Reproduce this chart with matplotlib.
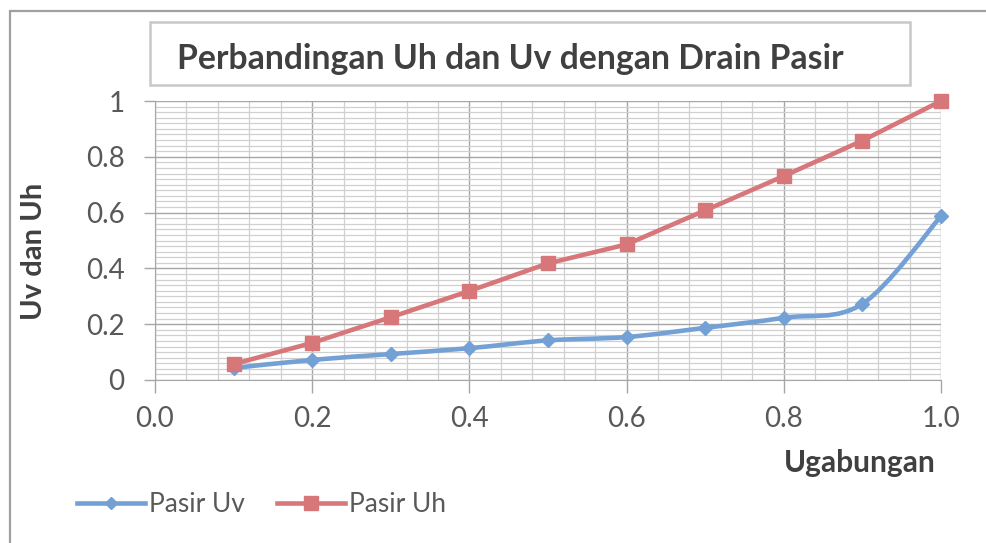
import numpy as np
import matplotlib.pyplot as plt
from matplotlib.path import Path
from matplotlib.patches import PathPatch, Rectangle
from matplotlib.lines import Line2D
from matplotlib.ticker import MultipleLocator

# -----------------------------
# Data
# -----------------------------
ugabungan = [0.1, 0.2, 0.3, 0.4, 0.5, 0.6, 0.7, 0.8, 0.9, 1.0]
pasir_uv = [0.043, 0.072, 0.093, 0.114, 0.142, 0.154, 0.187, 0.223, 0.273, 0.587]
pasir_uh = [0.057, 0.133, 0.225, 0.319, 0.418, 0.486, 0.608, 0.731, 0.858, 1.0]

x_ticks = [0.0, 0.2, 0.4, 0.6, 0.8, 1.0]
x_tick_labels = ["0.0", "0.2", "0.4", "0.6", "0.8", "1.0"]
y_ticks = [0, 0.2, 0.4, 0.6, 0.8, 1.0]
y_tick_labels = ["0", "0.2", "0.4", "0.6", "0.8", "1"]

BLUE = "#73a0d5"
RED = "#d8777a"
GREY_TXT = "#595959"

plt.rcParams["font.family"] = ["Lato", "DejaVu Sans"]


def smooth_path(xs, ys):
    # bezier segments through the points (like excel "smoothed line")
    pts = np.column_stack([xs, ys])
    n = len(pts)
    verts = [pts[0]]
    codes = [Path.MOVETO]
    for i in range(n - 1):
        p0 = pts[i - 1] if i > 0 else pts[i]
        p1 = pts[i]
        p2 = pts[i + 1]
        p3 = pts[i + 2] if i + 2 < n else pts[i + 1]
        c1 = p1 + (p2 - p0) / 6.0
        c2 = p2 - (p3 - p1) / 6.0
        verts += [c1, c2, p2]
        codes += [Path.CURVE4] * 3
    return Path(verts, codes)


# -----------------------------
# Figure
# -----------------------------
fig = plt.figure(figsize=(9.87, 5.43), dpi=100)
W, H = 987.0, 543.0

# outer chart frame
fig.patches.append(Rectangle((10 / W, -0.1), 1.2, 1 - 11 / H + 0.1,
                             transform=fig.transFigure, fill=False,
                             edgecolor="#a0a0a0", linewidth=1.6))
# title box
fig.patches.append(Rectangle((150 / W, 1 - 85 / H), 760 / W, 63 / H,
                             transform=fig.transFigure, facecolor="white",
                             edgecolor="#c8c8c8", linewidth=1.8))
fig.text(510 / W, 1 - 59 / H, "Perbandingan Uh dan Uv dengan Drain Pasir",
         ha="center", va="center", fontsize=24.3, fontweight="bold",
         color="#404040")

ax = fig.add_axes([155 / W, 1 - 380 / H, 786 / W, 279 / H])
ax.set_xlim(0, 1.0)
ax.set_ylim(0, 1.0)
ax.set_facecolor("none")

ax.xaxis.set_minor_locator(MultipleLocator(0.04))
ax.yaxis.set_minor_locator(MultipleLocator(0.02))
ax.set_xticks(x_ticks)
ax.set_xticklabels(x_tick_labels)
ax.set_yticks(y_ticks)
ax.set_yticklabels(y_tick_labels)
ax.grid(which="major", color="#a6a6a6", linewidth=1.0)
ax.grid(which="minor", color="#d0d0d0", linewidth=0.9)
ax.set_axisbelow(True)

for side in ["top", "right"]:
    ax.spines[side].set_visible(False)
ax.spines["left"].set_color("#a6a6a6")
ax.spines["bottom"].set_color("#a6a6a6")

ax.tick_params(axis="x", which="major", length=9, width=1, color="#a6a6a6",
               pad=10, labelsize=20, labelcolor=GREY_TXT)
ax.tick_params(axis="y", which="major", length=8, width=1, color="#a6a6a6",
               pad=14, labelsize=20, labelcolor=GREY_TXT)
ax.tick_params(which="minor", length=0)

# Uv: smoothed line with diamond markers
ax.add_patch(PathPatch(smooth_path(ugabungan, pasir_uv), facecolor="none",
                       edgecolor=BLUE, linewidth=3.3, zorder=3,
                       capstyle="round", joinstyle="round"))
ax.plot(ugabungan, pasir_uv, linestyle="none", marker="D", markersize=7,
        color=BLUE, zorder=4, clip_on=False)

# Uh: straight segments with square markers
ax.plot(ugabungan, pasir_uh, color=RED, linewidth=3.3, marker="s",
        markersize=10, zorder=5, clip_on=False, solid_capstyle="round")

ax.set_ylabel("Uv dan Uh", fontsize=21, fontweight="bold", color="#404040")
ax.yaxis.set_label_coords(-108 / 786, 0.46)
fig.text(860 / W, 1 - 463 / H, "Ugabungan", ha="center", va="center",
         fontsize=21.5, fontweight="bold", color="#404040")

# legend
handles = [
    Line2D([], [], color=BLUE, linewidth=3.3, marker="D", markersize=6.5),
    Line2D([], [], color=RED, linewidth=3.3, marker="s", markersize=10),
]
fig.legend(handles, ["Pasir Uv", "Pasir Uh"], loc="center left",
           bbox_to_anchor=(53 / W, 1 - 505 / H), ncol=2, frameon=False,
           fontsize=19, labelcolor=GREY_TXT, handlelength=2.6,
           handletextpad=0.15, columnspacing=1.2)

fig.savefig("out.png", dpi=100)
